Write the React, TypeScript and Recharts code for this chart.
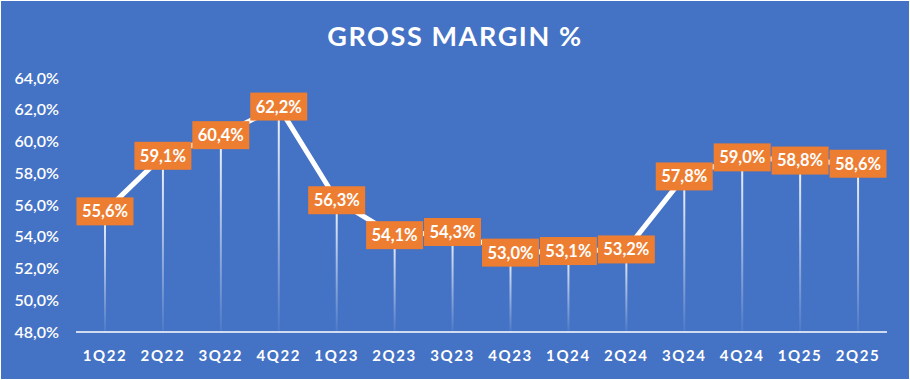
import React from "react";
import { ComposedChart, Line, Bar, XAxis, YAxis, LabelList } from "recharts";

const quarters = [
  "1Q22", "2Q22", "3Q22", "4Q22", "1Q23", "2Q23", "3Q23",
  "4Q23", "1Q24", "2Q24", "3Q24", "4Q24", "1Q25", "2Q25",
];
const grossMargin = [55.6, 59.1, 60.4, 62.2, 56.3, 54.1, 54.3, 53.0, 53.1, 53.2, 57.8, 59.0, 58.8, 58.6];
const yTicks = [48, 50, 52, 54, 56, 58, 60, 62, 64];

const BLUE = "#4472C4";
const ORANGE = "#ED7D31";
const FONT = "Lato, 'Open Sans', sans-serif";

const data = quarters.map((q, i) => ({ q, value: grossMargin[i] }));

const pct = (v: number) => v.toFixed(1).replace(".", ",") + "%";

function ValueTag(props: any) {
  const { x, y, value } = props;
  const w = 57;
  const h = 28;
  return (
    <g>
      <rect x={x - w / 2} y={y - h / 2} width={w} height={h} fill={ORANGE} />
      <text
        x={x}
        y={y}
        dy="0.36em"
        textAnchor="middle"
        fill="#fff"
        fontSize={16.5}
        fontWeight={700}
        fontFamily={FONT}
      >
        {pct(value)}
      </text>
    </g>
  );
}

export default function App() {
  return (
    <div style={{ position: "absolute", left: 0, top: 0, width: 910, height: 380, background: "#fff" }}>
      <div
        style={{
          position: "absolute",
          left: 1,
          top: 1,
          width: 908,
          height: 378,
          background: BLUE,
        }}
      />
      <div
        style={{
          position: "absolute",
          left: 0,
          top: 19,
          width: 910,
          textAlign: "center",
          color: "#fff",
          fontFamily: FONT,
          fontWeight: 700,
          fontSize: 27,
          letterSpacing: 1.6,
        }}
      >
        GROSS MARGIN %
      </div>
      <div style={{ position: "absolute", left: 0, top: 0 }}>
        <ComposedChart
          width={910}
          height={380}
          data={data}
          margin={{ top: 78, right: 23, bottom: 18, left: 0 }}
        >
          <defs>
            <linearGradient id="dropFade" x1="0" y1="0" x2="0" y2="1">
              <stop offset="0%" stopColor="#fff" stopOpacity={0.95} />
              <stop offset="100%" stopColor="#fff" stopOpacity={0.05} />
            </linearGradient>
          </defs>
          <XAxis
            dataKey="q"
            height={30}
            axisLine={{ stroke: "#fff", strokeWidth: 1.5 }}
            tickLine={false}
            tickSize={0}
            tickMargin={18}
            interval={0}
            tick={{ fill: "#fff", fontSize: 15, fontWeight: 700, fontFamily: FONT, letterSpacing: 1.6 }}
          />
          <YAxis
            width={76}
            domain={[48, 64]}
            ticks={yTicks}
            axisLine={false}
            tickLine={false}
            tickSize={0}
            tickMargin={17}
            tickFormatter={(v: number) => pct(v)}
            tick={{ fill: "#fff", fontSize: 16, fontWeight: 600, fontFamily: FONT }}
          />
          <Bar dataKey="value" barSize={2} fill="url(#dropFade)" isAnimationActive={false} />
          <Line
            dataKey="value"
            stroke="#fff"
            strokeWidth={5}
            dot={false}
            activeDot={false}
            isAnimationActive={false}
          >
            <LabelList dataKey="value" content={<ValueTag />} />
          </Line>
        </ComposedChart>
      </div>
    </div>
  );
}
